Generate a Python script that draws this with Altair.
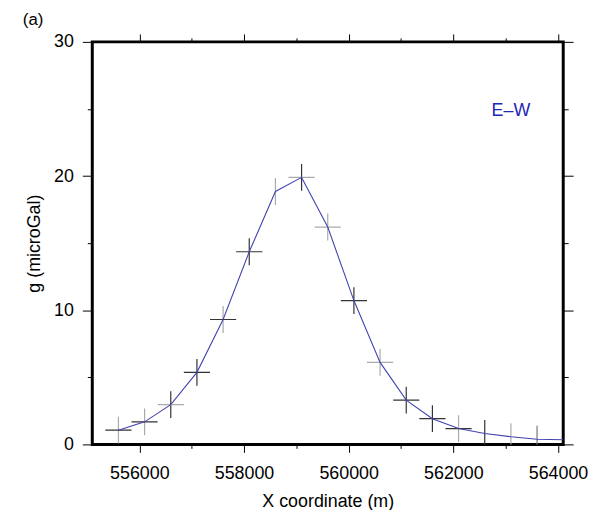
import altair as alt
import pandas as pd

# ---- data ----
x_m = [555600, 556100, 556600, 557100, 557600, 558100, 558600, 559100, 559600,
       560100, 560600, 561100, 561600, 562100, 562600, 563100, 563600, 564100]
g_ugal = [1.06, 1.68, 2.96, 5.37, 9.31, 14.36, 18.85, 19.9, 16.2,
          10.72, 6.11, 3.3, 1.92, 1.18, 0.81, 0.57, 0.39, 0.35]
x_err = [250, 250, 250, 250, 250, 250, 0, 250, 250,
         250, 250, 250, 250, 250, 0, 0, 0, 0]
g_err = [1.0, 1.0, 1.0, 1.0, 1.0, 1.0, 1.0, 1.0, 1.0,
         1.0, 1.0, 1.0, 1.0, 1.0, 1.0, 1.0, 1.0, 0.0]
h_color = ["#333333", "#333333", "#aaaaaa", "#333333", "#333333", "#333333", "#aaaaaa", "#aaaaaa", "#aaaaaa",
           "#333333", "#aaaaaa", "#333333", "#333333", "#333333", "#333333", "#aaaaaa", "#777777", "#aaaaaa"]
v_color = ["#aaaaaa", "#aaaaaa", "#333333", "#333333", "#aaaaaa", "#333333", "#aaaaaa", "#333333", "#aaaaaa",
           "#333333", "#aaaaaa", "#333333", "#333333", "#aaaaaa", "#333333", "#aaaaaa", "#777777", "#aaaaaa"]

x_major = [556000, 558000, 560000, 562000, 564000]
x_minor = [557000, 559000, 561000, 563000]
y_major = [0, 10, 20, 30]
y_minor = [5, 15, 25]
x_domain = [555100, 564100]
y_domain = [0, 30]

label_text = ["E\u2013W"]
label_x = [563100]
label_y = [24.5]

FONT = "Liberation Sans"

df = pd.DataFrame({"x": x_m, "g": g_ugal, "xe": x_err, "ge": g_err,
                   "hc": h_color, "vc": v_color})
df["xlo"] = df["x"] - df["xe"]
df["xhi"] = df["x"] + df["xe"]
df["glo"] = df["g"] - df["ge"]
df["ghi"] = df["g"] + df["ge"]
hb = df[df["xe"] > 0]
vb = df[df["ge"] > 0]
lab = pd.DataFrame({"t": label_text, "x": label_x, "g": label_y})

xs = alt.Scale(domain=x_domain, nice=False, zero=False)
ys = alt.Scale(domain=y_domain, nice=False, zero=False)


def xaxis(orient, values, size, labels=False, title=None):
    kw = dict(orient=orient, values=values, tickSize=size, labels=labels,
              grid=False, domain=False, tickColor="black", tickWidth=1)
    if labels:
        kw.update(format="d", labelFontSize=18, labelFont=FONT, labelColor="black",
                  labelPadding=12, labelFlush=False, labelOverlap=False)
    if title:
        kw.update(title=title, titleFontSize=18, titleFont=FONT, titleFontWeight="normal",
                  titleColor="black", titlePadding=11)
    else:
        kw.update(title=None)
    return alt.Axis(**kw)


def yaxis(orient, values, size, labels=False, title=None):
    kw = dict(orient=orient, values=values, tickSize=size, labels=labels,
              grid=False, domain=False, tickColor="black", tickWidth=1)
    if labels:
        kw.update(format="d", labelFontSize=18, labelFont=FONT, labelColor="black",
                  labelPadding=9, labelFlush=False, labelOverlap=False)
    if title:
        kw.update(title=title, titleFontSize=18, titleFont=FONT, titleFontWeight="normal",
                  titleColor="black", titlePadding=10)
    else:
        kw.update(title=None)
    return alt.Axis(**kw)


line = alt.Chart(df).mark_line(color="#4343b0", strokeWidth=1.1, clip=True).encode(
    x=alt.X("x:Q", scale=xs, axis=xaxis("bottom", x_major, 8, True, "X coordinate (m)")),
    y=alt.Y("g:Q", scale=ys, axis=yaxis("left", y_major, 10, True, "g (microGal)")),
)

hbars = alt.Chart(hb).mark_rule(strokeWidth=1.2, clip=True).encode(
    x=alt.X("xlo:Q", scale=xs, axis=xaxis("bottom", x_minor, 4)),
    x2="xhi:Q",
    y=alt.Y("g:Q", scale=ys, axis=yaxis("left", y_minor, 5)),
    color=alt.Color("hc:N", scale=None),
)

vbars = alt.Chart(vb).mark_rule(strokeWidth=1.2, clip=True).encode(
    x=alt.X("x:Q", scale=xs, axis=xaxis("top", x_major, 8)),
    y=alt.Y("glo:Q", scale=ys, axis=yaxis("right", y_major, 10)),
    y2="ghi:Q",
    color=alt.Color("vc:N", scale=None),
)

ew = alt.Chart(lab).mark_text(fontSize=18, font=FONT, color="#2424b8",
                              align="center", baseline="alphabetic").encode(
    x=alt.X("x:Q", scale=xs, axis=xaxis("top", x_minor, 4)),
    y=alt.Y("g:Q", scale=ys, axis=yaxis("right", y_minor, 5)),
    text="t:N",
)

panel = alt.Chart(pd.DataFrame({"t": ["(a)"]})).mark_text(
    fontSize=17, font=FONT, color="black", align="left", baseline="alphabetic"
).encode(x=alt.value(-70), y=alt.value(-17), text="t:N")

chart = alt.layer(vbars, hbars, line, ew, panel).resolve_axis(
    x="independent", y="independent"
).properties(
    width=475, height=406,
    autosize=alt.AutoSizeParams(type="none"),
    padding={"left": 85, "top": 32, "right": 26, "bottom": 64},
    background="white",
).configure_view(stroke="black", strokeWidth=3)

chart.save("out.html", embed_options={"renderer": "svg", "actions": False})
